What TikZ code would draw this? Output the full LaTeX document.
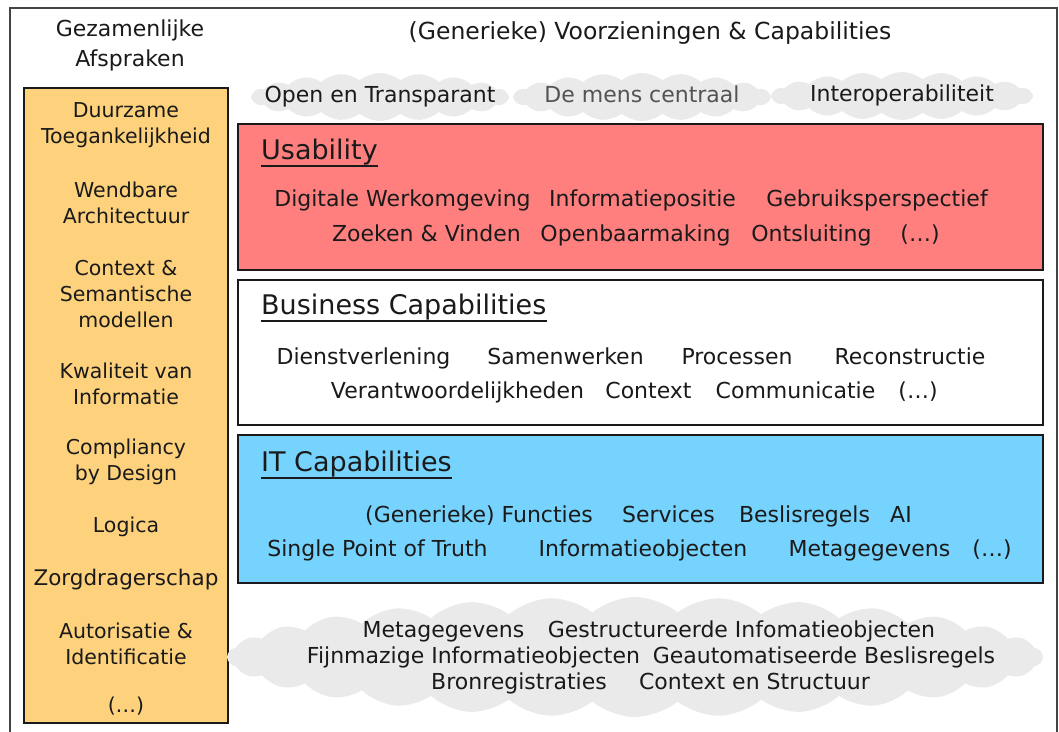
\documentclass[tikz,border=0pt]{standalone}
\usepackage{fontspec}
\setmainfont{DejaVu Sans}
\usetikzlibrary{shapes.symbols}
\definecolor{orangefill}{HTML}{FED27C}
\definecolor{redfill}{HTML}{FF7F7F}
\definecolor{bluefill}{HTML}{76D3FD}
\definecolor{cloudfill}{HTML}{EAEAEA}
\definecolor{ink}{HTML}{1A1A1A}
\definecolor{frameline}{HTML}{444444}
\begin{document}
\begin{tikzpicture}[x=1pt,y=-1pt,
  panel/.style={draw=ink, line width=1.6pt},
  body/.style={font=\fontsize{22}{26}\selectfont, text=ink, inner sep=0pt, anchor=center, execute at begin node=\strut},
  col/.style={font=\fontsize{20.5}{26}\selectfont, text=ink, align=center, inner sep=0pt, anchor=center},
  head/.style={font=\fontsize{22}{30}\selectfont, text=ink, align=center, inner sep=0pt, anchor=center},
  titletext/.style={font=\fontsize{27}{30}\selectfont, text=ink, anchor=base west, inner sep=0pt},
  underline/.style={draw=ink, line width=2.2pt},
  puff/.style={cloud, cloud ignores aspect, fill=cloudfill, draw=none, inner sep=0pt},
]
\useasboundingbox (0,0) rectangle (1059,731);
\fill[white] (0,0) rectangle (1059,731);
% outer frame
\draw[frameline, line width=1.4pt] (10,740) -- (10,8) -- (1057,8) -- (1057,740);

% headers
\node[head] (hleft) at (130,45) {Gezamenlijke\\Afspraken};
\node[head, font=\fontsize{23.5}{30}\selectfont] (hright) at (650,33) {(Generieke) Voorzieningen \& Capabilities};

% top clouds
\node[puff, cloud puffs=20, cloud puff arc=80, minimum width=258pt, minimum height=48pt] (c1) at (380,97) {};
\node[puff, cloud puffs=20, cloud puff arc=80, minimum width=258pt, minimum height=48pt] (c2) at (642,97) {};
\node[puff, cloud puffs=20, cloud puff arc=80, minimum width=262pt, minimum height=48pt] (c3) at (902,96) {};
\node[body] (t1) at (c1.center) {Open en Transparant};
\node[body, text=ink!75] (t2) at (c2.center) {De mens centraal};
\node[body] (t3) at (c3.center) {Interoperabiliteit};

% left column
\path[panel, fill=orangefill] (24,88) rectangle (228,723);
\node[col] (a1) at (126,125) {Duurzame\\Toegankelijkheid};
\node[col] (a2) at (126,203) {Wendbare\\Architectuur};
\node[col] (a3) at (126,294) {Context \&\\Semantische\\modellen};
\node[col] (a4) at (126,384) {Kwaliteit van\\Informatie};
\node[col] (a5) at (126,462) {Compliancy\\by Design};
\node[col] (a6) at (126,527) {Logica};
\node[col, font=\fontsize{21.5}{26}\selectfont] (a7) at (126,580) {Zorgdragerschap};
\node[col] (a8) at (126,644) {Autorisatie \&\\Identificatie};
\node[col] (a9) at (126,706) {(…)};

% Usability
\path[panel, fill=redfill] (238,124) rectangle (1043,270);
\node[titletext] (u) at (261,159) {Usability};
\draw[underline] ([yshift=-7pt]u.base west) -- ([yshift=-7pt]u.base east);
\node[body] (u11) at (402.5,201) {Digitale Werkomgeving};
\node[body] (u12) at (642.5,201) {Informatiepositie};
\node[body] (u13) at (877,201) {Gebruiksperspectief};
\node[body] (u21) at (426.5,236) {Zoeken \& Vinden};
\node[body] (u22) at (635.5,236) {Openbaarmaking};
\node[body] (u23) at (811.5,236) {Ontsluiting};
\node[body] (u24) at (920,236) {(…)};

% Business Capabilities
\path[panel, fill=white] (238,280) rectangle (1043,425);
\node[titletext] (b) at (261,314) {Business Capabilities};
\draw[underline] ([yshift=-7pt]b.base west) -- ([yshift=-7pt]b.base east);
\node[body] (b11) at (363.5,359) {Dienstverlening};
\node[body] (b12) at (565.5,359) {Samenwerken};
\node[body] (b13) at (737,359) {Processen};
\node[body] (b14) at (910,359) {Reconstructie};
\node[body] (b21) at (457.5,393) {Verantwoordelijkheden};
\node[body] (b22) at (648.5,393) {Context};
\node[body] (b23) at (795.5,393) {Communicatie};
\node[body] (b24) at (918,393) {(…)};

% IT Capabilities
\path[panel, fill=bluefill] (238,435) rectangle (1043,583);
\node[titletext] (i) at (261,471) {IT Capabilities};
\draw[underline] ([yshift=-7pt]i.base west) -- ([yshift=-7pt]i.base east);
\node[body] (i11) at (479,517) {(Generieke) Functies};
\node[body] (i12) at (668.5,517) {Services};
\node[body] (i13) at (804.5,517) {Beslisregels};
\node[body] (i14) at (901,517) {AI};
\node[body] (i21) at (377.5,551) {Single Point of Truth};
\node[body] (i22) at (643,551) {Informatieobjecten};
\node[body] (i23) at (869.5,551) {Metagegevens};
\node[body] (i24) at (992,551) {(…)};

% bottom cloud
\node[puff, cloud puffs=30, cloud puff arc=80, minimum width=815pt, minimum height=120pt] (cb) at (635,657) {};
\node[body] (d11) at (443.5,632) {Metagegevens};
\node[body] (d12) at (741.5,632) {Gestructureerde Infomatieobjecten};
\node[body] (d21) at (473.5,658) {Fijnmazige Informatieobjecten};
\node[body] (d22) at (824,658) {Geautomatiseerde Beslisregels};
\node[body] (d31) at (519,684) {Bronregistraties};
\node[body] (d32) at (754.5,684) {Context en Structuur};
\end{tikzpicture}
\end{document}
